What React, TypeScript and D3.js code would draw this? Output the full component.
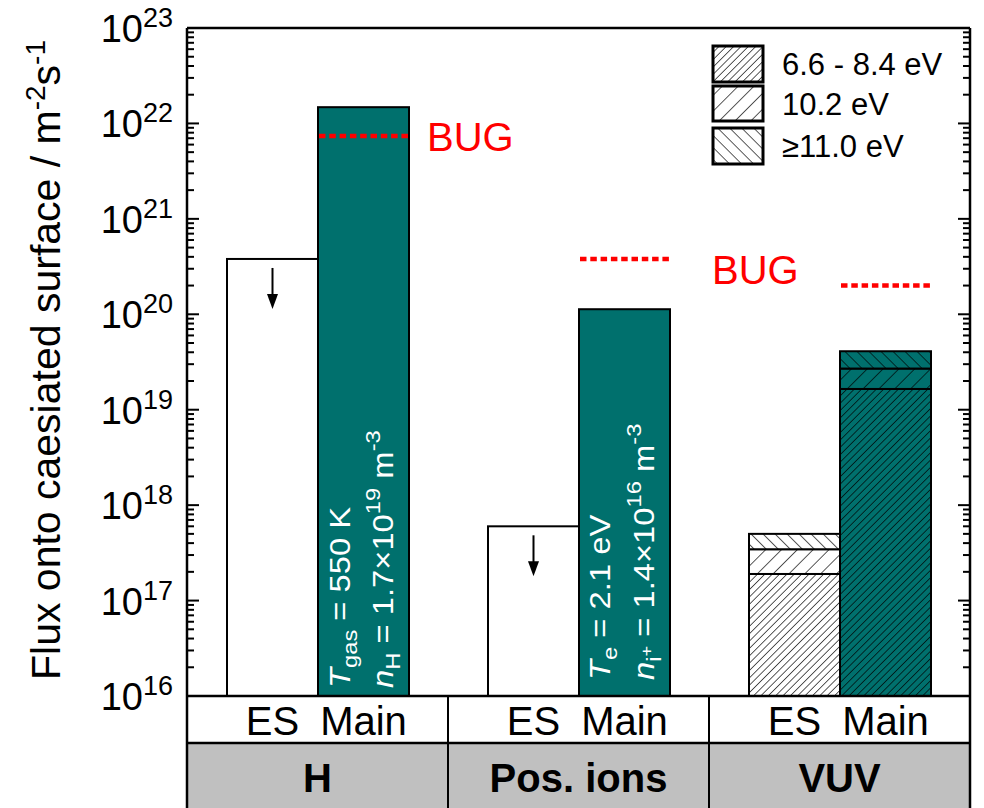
import React from "react";
import * as d3 from "d3";

// Categories and series
const categories = ["H", "Pos. ions", "VUV"];
const seriesNames = ["ES", "Main"];

// Flux values (m^-2 s^-1)
const esFlux = [3.8e20, 6.0e17]; // upper limits for H and positive ions
const mainFlux = [1.48e22, 1.13e20];

// VUV flux split by photon energy band (segment values, stacked)
const vuvBands = ["6.6 - 8.4 eV", "10.2 eV", "\u226511.0 eV"];
const vuvES = [1.9e17, 1.55e17, 1.55e17];
const vuvMain = [1.65e19, 1.05e19, 1.4e19];

// Reference level flagged as "BUG"
const bugFlux = [7.4e21, 3.8e20, 2.0e20];

// Axis decades
const decades = [16, 17, 18, 19, 20, 21, 22, 23];

const W = 984;
const H = 808;
const left = 187;
const right = 970;
const top = 28;
const plotBottom = 696;
const rowSplit = 743;
const TEAL = "#00706D";
const FONT = "'Liberation Sans', Arial, Helvetica, sans-serif";
const NB = "\u00a0";

const y = d3.scaleLog().domain([1e16, 1e23]).range([plotBottom, top]);
const x = d3.scaleBand<string>().domain(categories).range([left, right]).padding(0);
const xs = d3.scaleBand<string>().domain(seriesNames).range([40, 222]).padding(0);
const bw = xs.bandwidth();

const patternIds = ["hatchDense", "hatchWide", "hatchBack"];

function Patterns() {
  return (
    <defs>
      <pattern id="hatchDense" patternUnits="userSpaceOnUse" width={5.2} height={10} patternTransform="rotate(45)">
        <line x1={0} y1={-1} x2={0} y2={11} stroke="#000" strokeWidth={1.3} />
      </pattern>
      <pattern id="hatchWide" patternUnits="userSpaceOnUse" width={11.2} height={10} patternTransform="rotate(45)">
        <line x1={0} y1={-1} x2={0} y2={11} stroke="#000" strokeWidth={1.3} />
      </pattern>
      <pattern id="hatchBack" patternUnits="userSpaceOnUse" width={8.5} height={10} patternTransform="rotate(-45)">
        <line x1={0} y1={-1} x2={0} y2={11} stroke="#000" strokeWidth={1.3} />
      </pattern>
    </defs>
  );
}

function Arrow({ cx, y0 }: { cx: number; y0: number }) {
  const len = 41;
  return (
    <g>
      <line x1={cx} y1={y0} x2={cx} y2={y0 + len - 12} stroke="#000" strokeWidth={2} />
      <path d={`M${cx - 5.5},${y0 + len - 15} L${cx + 5.5},${y0 + len - 15} L${cx},${y0 + len} Z`} fill="#000" />
    </g>
  );
}

function StackedBar({ x0, values, fill }: { x0: number; values: number[]; fill: string }) {
  let base = 1e16;
  let cum = 0;
  const segs = values.map((v, i) => {
    cum += v;
    const y0 = y(base);
    const y1 = y(cum);
    base = cum;
    return { i, y0, y1 };
  });
  return (
    <g>
      {segs.map((s) => (
        <g key={s.i}>
          <rect x={x0} y={s.y1} width={bw} height={s.y0 - s.y1} fill={fill} />
          <rect x={x0} y={s.y1} width={bw} height={s.y0 - s.y1} fill={`url(#${patternIds[s.i]})`} stroke="#000" strokeWidth={2} />
        </g>
      ))}
    </g>
  );
}

function TickLabel({ d }: { d: number }) {
  const yy = y(Math.pow(10, d));
  return (
    <text x={173} y={yy + 14} textAnchor="end" fontFamily={FONT} fontSize={38} fill="#000">
      10
      <tspan fontSize={27} dy={-15}>{d}</tspan>
    </text>
  );
}

// rotated annotation running upward from the bar base, slightly stretched along its length
const rot = (px: number, py: number) => `translate(${px},${py}) rotate(-90) scale(1.13,1)`;

export default function App() {
  const minorVals: number[] = [];
  decades.slice(0, -1).forEach((d) => {
    for (let k = 2; k <= 9; k++) minorVals.push(k * Math.pow(10, d));
  });
  const majorVals = decades.map((d) => Math.pow(10, d));

  const band = (c: string) => x(c) as number;
  const barX = (c: string, s: string) => band(c) + (xs(s) as number);

  return (
    <svg width={W} height={H} style={{ position: "absolute", left: 0, top: 0, background: "#fff" }}>
      <Patterns />

      {/* category rows below the plot */}
      <rect x={left} y={rowSplit} width={right - left} height={H - rowSplit} fill="#C0C0C0" />

      {/* H and positive ions: ES (upper limit) and Main bars */}
      {esFlux.map((v, i) => {
        const c = categories[i];
        const bx = barX(c, "ES");
        return (
          <g key={`es${i}`}>
            <rect x={bx} y={y(v)} width={bw} height={plotBottom - y(v)} fill="#fff" stroke="#000" strokeWidth={2} />
            <Arrow cx={bx + bw / 2} y0={y(v) + 9} />
          </g>
        );
      })}
      {mainFlux.map((v, i) => {
        const c = categories[i];
        const bx = barX(c, "Main");
        return <rect key={`m${i}`} x={bx} y={y(v)} width={bw} height={plotBottom - y(v)} fill={TEAL} stroke="#000" strokeWidth={2} />;
      })}

      {/* VUV stacked bars */}
      <StackedBar x0={barX("VUV", "ES")} values={vuvES} fill="#fff" />
      <StackedBar x0={barX("VUV", "Main")} values={vuvMain} fill={TEAL} />

      {/* plasma parameters inside the Main bars */}
      <g fontFamily={FONT} fontSize={29} fill="#fff">
        <text transform={rot(barX("H", "Main") + 32, plotBottom - 8)}>
          <tspan fontStyle="italic">T</tspan>
          <tspan fontSize={21} dy={7}>gas</tspan>
          <tspan dy={-7}>{`${NB}=${NB}550${NB}K`}</tspan>
        </text>
        <text transform={rot(barX("H", "Main") + 75, plotBottom - 8)}>
          <tspan fontStyle="italic">n</tspan>
          <tspan fontSize={21} dy={7}>H</tspan>
          <tspan dy={-7}> = 1.7</tspan>
          <tspan>{"\u00d7"}10</tspan>
          <tspan fontSize={21} dy={-13}>19</tspan>
          <tspan dy={13}> m</tspan>
          <tspan fontSize={21} dy={-13}>-3</tspan>
        </text>
        <text transform={rot(barX("Pos. ions", "Main") + 31, plotBottom - 16)}>
          <tspan fontStyle="italic">T</tspan>
          <tspan fontSize={21} dy={7}>e</tspan>
          <tspan dy={-7}> = 2.1 eV</tspan>
        </text>
        <text transform={rot(barX("Pos. ions", "Main") + 75, plotBottom - 16)}>
          <tspan fontStyle="italic">n</tspan>
          <tspan fontSize={21} dy={7}>i</tspan>
          <tspan fontSize={16} dy={-9}>+</tspan>
          <tspan dy={2}> = 1.4</tspan>
          <tspan>{"\u00d7"}10</tspan>
          <tspan fontSize={21} dy={-13}>16</tspan>
          <tspan dy={13}> m</tspan>
          <tspan fontSize={21} dy={-13}>-3</tspan>
        </text>
      </g>

      {/* BUG reference levels */}
      {bugFlux.map((v, i) => {
        const bx = barX(categories[i], "Main");
        return (
          <line key={`bug${i}`} x1={bx + 1} x2={bx + bw} y1={y(v)} y2={y(v)} stroke="#FF0000" strokeWidth={4.5} strokeDasharray="6.5 3.8" />
        );
      })}
      <text x={barX("H", "Main") + bw + 18} y={y(bugFlux[0]) + 15} fontFamily={FONT} fontSize={40} fill="#FF0000">BUG</text>
      <text x={barX("Pos. ions", "Main") + bw + 42} y={y(bugFlux[1]) + 25} fontFamily={FONT} fontSize={40} fill="#FF0000">BUG</text>

      {/* legend */}
      {vuvBands.map((name, i) => {
        const ys = [46, 86, 128][i];
        const hgt = [36, 35, 36][i];
        return (
          <g key={name}>
            <rect x={713} y={ys} width={50} height={hgt} fill={`url(#${patternIds[i]})`} stroke="#000" strokeWidth={3} />
            <text x={782} y={ys + hgt / 2 + 11} fontFamily={FONT} fontSize={31} fill="#000">{name}</text>
          </g>
        );
      })}

      {/* ticks, inward on both sides */}
      <g stroke="#000" strokeWidth={2}>
        {majorVals.map((v) => (
          <g key={`M${v}`}>
            <line x1={left} x2={left + 12} y1={y(v)} y2={y(v)} />
            <line x1={right} x2={right - 12} y1={y(v)} y2={y(v)} />
          </g>
        ))}
        {minorVals.map((v) => (
          <g key={`m${v}`}>
            <line x1={left} x2={left + 7} y1={y(v)} y2={y(v)} />
            <line x1={right} x2={right - 7} y1={y(v)} y2={y(v)} />
          </g>
        ))}
      </g>
      {decades.map((d) => (
        <TickLabel key={d} d={d} />
      ))}

      {/* frame and category grid */}
      <g stroke="#000" strokeWidth={2.5} fill="none">
        <line x1={left} x2={right} y1={top} y2={top} />
        <line x1={left} x2={left} y1={top} y2={H} />
        <line x1={right} x2={right} y1={top} y2={H} />
        <line x1={left} x2={right} y1={plotBottom} y2={plotBottom} />
        <line x1={left} x2={right} y1={rowSplit} y2={rowSplit} />
        {categories.slice(1).map((c) => (
          <line key={c} x1={band(c)} x2={band(c)} y1={plotBottom} y2={H} strokeWidth={2} />
        ))}
      </g>

      {/* series and category labels */}
      {categories.map((c) => (
        <g key={c} fontFamily={FONT}>
          {seriesNames.map((s) => (
            <text key={s} x={barX(c, s) + bw / 2} y={735} textAnchor="middle" fontSize={40} fill="#000">
              {s}
            </text>
          ))}
          <text x={band(c) + x.bandwidth() / 2} y={792} textAnchor="middle" fontSize={40} fontWeight="bold" fill="#000">
            {c}
          </text>
        </g>
      ))}

      {/* y axis title */}
      <text transform="translate(60,360) rotate(-90)" textAnchor="middle" fontFamily={FONT} fontSize={41} fill="#000">
        Flux onto caesiated surface / m
        <tspan fontSize={28} dy={-15}>-2</tspan>
        <tspan dy={15}>s</tspan>
        <tspan fontSize={28} dy={-15}>-1</tspan>
      </text>
    </svg>
  );
}
